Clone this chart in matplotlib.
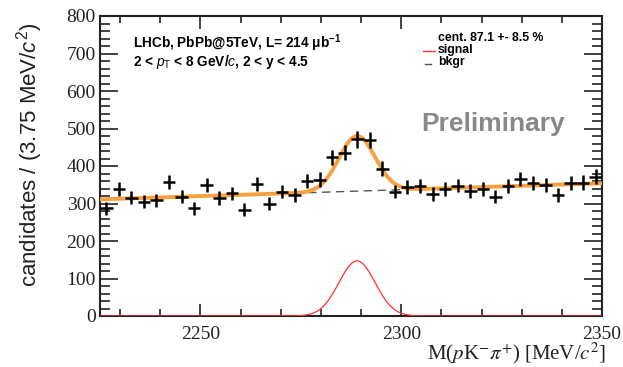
#%%
# LHCb PbPb@5TeV mass fit, M(pK-pi+)

# IMPORTS #######################################

import numpy as np
import matplotlib
matplotlib.use("Agg")
import matplotlib.pyplot as plt
from matplotlib.ticker import MultipleLocator

# SETUP #########################################

plt.rcParams.update({
    "font.family": "Liberation Sans",
    "mathtext.fontset": "custom",
    "mathtext.rm": "Liberation Sans",
    "mathtext.it": "Liberation Sans:italic",
    "mathtext.bf": "Liberation Sans:bold",
})

# DATA ##########################################

x_lo, x_hi = 2225.0, 2350.0
n_bins = 40
counts = [287, 338, 316, 305, 309, 357, 318, 287, 349, 315,
          327, 284, 351, 299, 332, 323, 361, 364, 423, 436,
          471, 469, 393, 332, 345, 347, 325, 338, 348, 333,
          338, 318, 347, 365, 354, 349, 323, 354, 356, 372]

# fit parameters
sig_mean = 2289.0
sig_sigma = 4.5
sig_height = 147.0
bkg_left = 311.0   # background at x_lo
bkg_right = 354.0  # background at x_hi

# DATA MANIPULATION #############################

edges = np.linspace(x_lo, x_hi, n_bins + 1)
centers = 0.5 * (edges[1:] + edges[:-1])
half_width = 0.5 * (edges[1] - edges[0])
counts = np.array(counts, dtype=float)
errors = np.sqrt(counts)

xf = np.linspace(x_lo, x_hi, 600)
bkg = bkg_left + (bkg_right - bkg_left) * (xf - x_lo) / (x_hi - x_lo)
sig = sig_height * np.exp(-0.5 * ((xf - sig_mean) / sig_sigma) ** 2)
total = bkg + sig

# FIGURE ########################################

W, H = 623, 367
fig = plt.figure(figsize=(W / 100, H / 100), dpi=100)
ax = fig.add_axes([100 / W, (H - 316) / H, 502 / W, 300 / H])

ax.set_xlim(x_lo, x_hi)
ax.set_ylim(0, 800)

# TICKS #####################

ax.xaxis.set_major_locator(MultipleLocator(50))
ax.xaxis.set_minor_locator(MultipleLocator(10))
ax.yaxis.set_major_locator(MultipleLocator(100))
ax.yaxis.set_minor_locator(MultipleLocator(20))
ax.tick_params(which="both", direction="in", top=True, right=True,
               labelfontfamily="Liberation Serif", labelsize=14,
               colors="#222222", width=1.2)
ax.tick_params(axis="y", which="major", length=13, pad=3)
ax.tick_params(axis="y", which="minor", length=7)
ax.tick_params(axis="x", which="major", length=9, pad=7)
ax.tick_params(axis="x", which="minor", length=5)
for s in ax.spines.values():
    s.set_linewidth(1.5)
    s.set_color("#222222")

# PLOTTING ###################

ax.plot(xf, bkg, color="#555555", lw=1.0, ls=(0, (6, 4)), zorder=2)
ax.plot(xf, total, color="#f7a13e", lw=2.8, zorder=3)
ax.plot(xf, sig, color="#ff3030", lw=0.9, zorder=3)
ax.errorbar(centers, counts, yerr=errors, xerr=half_width,
            fmt="none", ecolor="black", elinewidth=1.8, capsize=0, zorder=4)

# TEXT #######################

def fx(px):
    return (px - 100) / 502

def fy(py):
    return (316 - py) / 300

ax.text(fx(133), fy(43), r"LHCb, PbPb@5TeV, L= 214 μb$^{\mathbf{-1}}$",
        transform=ax.transAxes, fontsize=9.8, fontweight="bold", va="center")
ax.text(fx(133), fy(62), r"2 < $p_{\mathrm{T}}$ < 8 GeV/$c$, 2 < y < 4.5",
        transform=ax.transAxes, fontsize=9.8, fontweight="bold", va="center")

ax.text(fx(438), fy(38), "cent. 87.1 +- 8.5 %", transform=ax.transAxes,
        fontsize=8.8, fontweight="bold", va="center")
ax.text(fx(438), fy(50), "signal", transform=ax.transAxes,
        fontsize=8.8, fontweight="bold", va="center")
ax.text(fx(438), fy(62), "bkgr", transform=ax.transAxes,
        fontsize=8.8, fontweight="bold", va="center")
ax.plot([fx(423), fx(435)], [fy(51), fy(51)], transform=ax.transAxes,
        color="#ff3030", lw=1.0, clip_on=False)
ax.plot([fx(425), fx(431)], [fy(64), fy(64)], transform=ax.transAxes,
        color="#555555", lw=1.0, clip_on=False)

ax.text(fx(421), fy(124), "Preliminary", transform=ax.transAxes,
        fontsize=19, fontweight="bold", color="#888888", va="center")

# AXIS LABELS ################

fig.text(30 / W, 1 - 155 / H, r"candidates / (3.75 MeV/$c^{2}$)",
         rotation=90, fontsize=16, ha="center", va="center", color="#222222")
fig.text(606 / W, 1 - 353 / H, r"M($p$K$^{-}$$\pi^{+}$) [MeV/$c^{2}$]",
         fontsize=15, ha="right", va="center", color="#222222",
         family="Liberation Serif", math_fontfamily="stix")

# EXPORT #########################################

fig.savefig("out.png", dpi=100)
